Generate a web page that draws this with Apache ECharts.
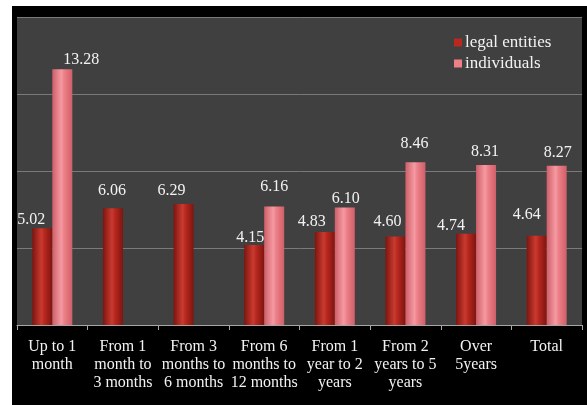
<!DOCTYPE html>
<html>
<head>
<meta charset="utf-8">
<script src="https://cdn.jsdelivr.net/npm/echarts@6/dist/echarts.min.js"></script>
<style>
html,body{margin:0;padding:0;background:#fff;}
#c{width:587px;height:405px;}
</style>
</head>
<body>
<div id="c"></div>
<script>
const categories = ["Up to 1\nmonth", "From 1\nmonth to\n3 months", "From 3\nmonths to\n6 months", "From 6\nmonths to\n12 months", "From 1\nyear to 2\nyears", "From 2\nyears to 5\nyears", "Over\n5years", "Total"];
const legalEntities = [5.02, 6.06, 6.29, 4.15, 4.83, 4.60, 4.74, 4.64];
const individuals = [13.28, null, null, 6.16, 6.10, 8.46, 8.31, 8.27];
const seriesNames = ["legal entities", "individuals"];
const yTicks = {min: 0, max: 16, interval: 4};

// label nudges (style only, px)
const legalNudge = [[-11,4],[-1,-5],[-12,0],[-4,6],[-13,3],[-8,-2],[-15,5],[-10,-8]];
const indivNudge = [[19,3],[0,0],[0,0],[0,-7],[1,4],[-1,-5],[-1,0],[1,0]];

const font = "'Liberation Serif', 'Times New Roman', serif";

function grad(edge, mid, light) {
  return new echarts.graphic.LinearGradient(0, 0, 1, 0, [
    {offset: 0, color: edge},
    {offset: 0.45, color: light},
    {offset: 0.6, color: mid},
    {offset: 1, color: edge}
  ]);
}

function build(vals, nudges) {
  return vals.map((v, i) => v == null ? null : ({
    value: v,
    label: {offset: nudges[i]}
  }));
}

const chart = echarts.init(document.getElementById('c'), null, {renderer: 'canvas'});
chart.setOption({
  backgroundColor: 'transparent',
  animation: false,
  graphic: [
    {type: 'rect', z: -10, shape: {x: 12, y: 6, width: 575, height: 399}, style: {fill: '#000'}}
  ],
  grid: {left: 17, right: 5, top: 17, bottom: 80, show: true, backgroundColor: '#404040', borderWidth: 0},
  legend: {
    orient: 'vertical', left: 449, top: 29,
    itemWidth: 8, itemHeight: 8, itemGap: 4,
    icon: 'rect',
    textStyle: {color: '#f2f2f2', fontFamily: font, fontSize: 17, padding: [0,0,0,-2]},
    data: [
      {name: seriesNames[0], itemStyle: {color: '#b8281f'}},
      {name: seriesNames[1], itemStyle: {color: '#ec7f88'}}
    ]
  },
  xAxis: {
    type: 'category',
    data: categories,
    axisLine: {lineStyle: {color: '#a6a6a6', width: 1}},
    axisTick: {show: true, length: 5, lineStyle: {color: '#a6a6a6'}},
    axisLabel: {color: '#f2f2f2', fontFamily: font, fontSize: 16, lineHeight: 18, margin: 13, interval: 0}
  },
  yAxis: {
    type: 'value', min: yTicks.min, max: yTicks.max, interval: yTicks.interval,
    axisLabel: {show: false}, axisLine: {show: false}, axisTick: {show: false},
    splitLine: {lineStyle: {color: '#7a7a7a', width: 1}}
  },
  series: [
    {
      name: seriesNames[0], type: 'bar', barWidth: 20, barGap: '0%',
      data: build(legalEntities, legalNudge),
      itemStyle: {color: grad('#7e150f', '#b8281f', '#c93a30')},
      label: {show: true, position: 'top', distance: 5, color: '#f2f2f2', fontFamily: font, fontSize: 16,
              formatter: p => p.value.toFixed(2)}
    },
    {
      name: seriesNames[1], type: 'bar', barWidth: 20,
      data: build(individuals, indivNudge),
      itemStyle: {color: grad('#cf5f69', '#ec7f88', '#f59aa2')},
      label: {show: true, position: 'top', distance: 5, color: '#f2f2f2', fontFamily: font, fontSize: 16,
              formatter: p => p.value.toFixed(2)}
    }
  ]
});
</script>
</body>
</html>
